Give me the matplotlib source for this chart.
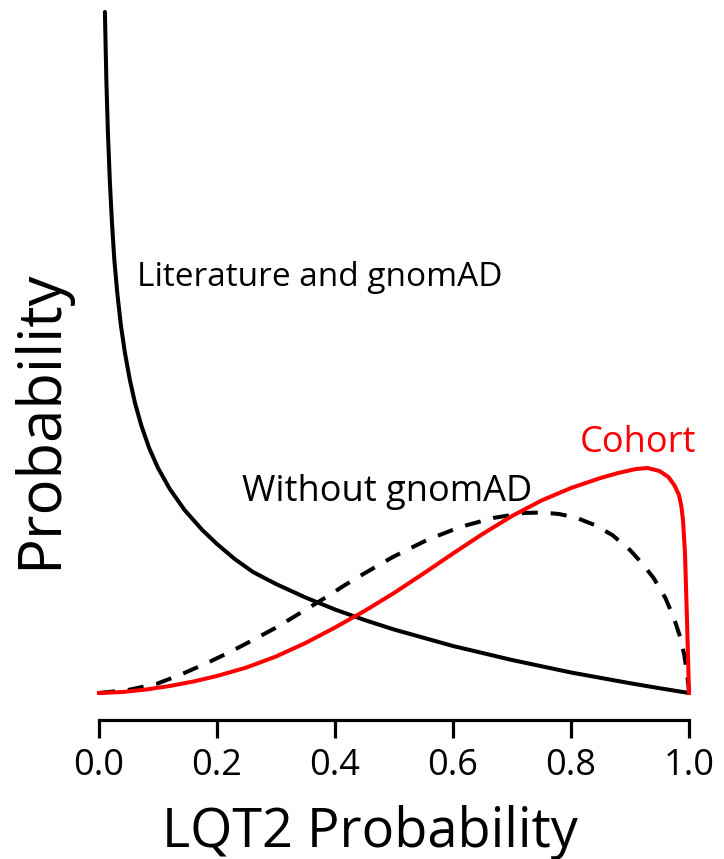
import matplotlib
matplotlib.use('Agg')
import matplotlib.pyplot as plt

plt.rcParams['font.family'] = ['Open Sans', 'DejaVu Sans']

# LQT2 probability (x) and density (y) for each curve
lit_x = [0.0100, 0.0125, 0.0150, 0.0185, 0.0220, 0.0260, 0.0310, 0.0370,
         0.0440, 0.0520, 0.0610, 0.0720, 0.0850, 0.1000, 0.1200, 0.1450,
         0.1750, 0.2000, 0.2300, 0.2610, 0.3000, 0.3500, 0.4000, 0.4500,
         0.5000, 0.6000, 0.7000, 0.8000, 0.9000, 0.9500, 1.0000]
lit_y = [6.81, 6.12, 5.62, 5.10, 4.70, 4.33, 4.00, 3.68,
         3.40, 3.14, 2.90, 2.67, 2.45, 2.25, 2.04, 1.83,
         1.63, 1.49, 1.34, 1.21, 1.09, 0.955, 0.835, 0.73,
         0.635, 0.47, 0.33, 0.205, 0.098, 0.048, 0.00]

nognomad_x = [0.000, 0.049, 0.097, 0.137, 0.183, 0.222, 0.261, 0.302,
              0.341, 0.380, 0.417, 0.448, 0.498, 0.556, 0.612, 0.668,
              0.720, 0.750, 0.780, 0.810, 0.840, 0.870, 0.900, 0.920,
              0.940, 0.960, 0.975, 0.985, 0.992, 0.996, 0.999, 1.000]
nognomad_y = [0.00, 0.03, 0.09, 0.18, 0.30, 0.41, 0.53, 0.66,
              0.80, 0.94, 1.08, 1.19, 1.36, 1.53, 1.66, 1.75,
              1.80, 1.805, 1.79, 1.75, 1.68, 1.58, 1.43, 1.30,
              1.15, 0.95, 0.74, 0.56, 0.38, 0.22, 0.08, 0.00]

cohort_x = [0.000, 0.040, 0.080, 0.120, 0.160, 0.200, 0.250, 0.300,
            0.350, 0.400, 0.450, 0.500, 0.550, 0.600, 0.650, 0.700,
            0.750, 0.800, 0.850, 0.880, 0.910, 0.930, 0.950, 0.965,
            0.975, 0.983, 0.987, 0.9898, 0.9932, 0.9966, 1.000]
cohort_y = [0.00, 0.01, 0.035, 0.07, 0.115, 0.17, 0.255, 0.365,
            0.50, 0.655, 0.82, 1.00, 1.195, 1.395, 1.59, 1.77,
            1.925, 2.05, 2.15, 2.20, 2.24, 2.25, 2.22, 2.16,
            2.08, 1.98, 1.87, 1.73, 1.40, 0.73, 0.00]

xticks = [0.0, 0.2, 0.4, 0.6, 0.8, 1.0]

fig = plt.figure(figsize=(7.24, 8.59), dpi=100)
ax = fig.add_axes([99 / 724, 139 / 859, 590 / 724, 710 / 859])

lw = 2.9
ax.plot(lit_x, lit_y, color='black', lw=lw, clip_on=False,
        solid_capstyle='round', solid_joinstyle='round')
ax.plot(nognomad_x, nognomad_y, color='black', lw=lw, clip_on=False,
        dashes=(4.0, 3.2))
ax.plot(cohort_x, cohort_y, color='#ff0000', lw=lw, clip_on=False,
        solid_joinstyle='round')

ax.text(0.064, 4.07, 'Literature and gnomAD', fontsize=24, va='baseline')
ax.text(0.242, 1.92, 'Without gnomAD', fontsize=26, va='baseline')
ax.text(0.815, 2.41, 'Cohort', fontsize=26, va='baseline', color='#ff0000')

ax.set_xlim(0, 1)
ax.set_ylim(-0.27, 6.83)
for side in ['left', 'right', 'top']:
    ax.spines[side].set_visible(False)
ax.spines['bottom'].set_linewidth(2.3)
ax.set_yticks([])
ax.set_xticks(xticks)
ax.set_xticklabels(['%.1f' % t for t in xticks])
ax.tick_params(axis='x', length=13, width=2.3, labelsize=26, pad=7)

fig.text(40 / 724, 1 - 419 / 859, 'Probability', rotation=90,
         fontsize=43, ha='center', va='center')
fig.text(370 / 724, 12 / 859, 'LQT2 Probability', fontsize=39,
         ha='center', va='baseline')

fig.savefig('out.png', dpi=100)
